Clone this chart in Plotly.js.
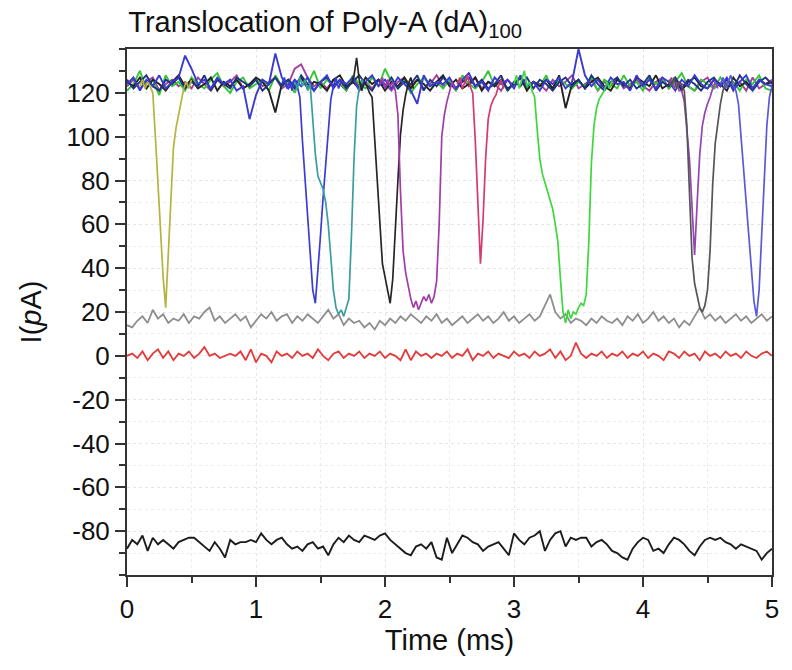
<!DOCTYPE html>
<html>
<head>
<meta charset="utf-8">
<script src="https://cdn.plot.ly/plotly-3.0.1.min.js"></script>
<style>
html,body{margin:0;padding:0;background:#ffffff;}
#chart{width:792px;height:670px;}
</style>
</head>
<body>
<div id="chart"></div>
<script>
// ---------- DATA (current in pA, time in ms) ----------
// sampling steps of the traces
const bandStep = 0.05;
const eventStep = 0.02;
const lowerStep = 0.04;

// open-pore baseline traces (0 - 5 ms, every 0.05 ms)
const bandBlue = [
  124,127,121,126,123,128,122,125,127,137,
  131,124,126,122,127,124,126,121,123,108,
  119,126,124,138,127,122,126,123,127,121,
  125,128,122,126,124,127,121,125,128,123,
  126,122,127,124,121,115,128,123,125,124,
  127,122,126,129,123,125,121,127,124,126,
  122,128,123,125,121,126,124,127,122,125,
  140,128,123,126,122,127,124,125,121,128,
  123,126,122,127,125,121,126,123,128,124,
  122,126,123,127,121,125,128,122,126,124,
  123];
const bandNavy = [
  126,122,125,128,123,121,126,124,127,122,
  125,123,128,121,126,124,122,127,125,123,
  126,121,124,127,123,126,122,128,124,121,
  125,127,123,126,122,125,128,124,121,126,
  123,127,122,125,124,128,121,126,123,127,
  124,122,125,127,123,126,122,124,128,121,
  125,123,127,122,126,124,121,125,127,123,
  126,122,128,124,121,125,127,123,126,122,
  124,128,121,125,123,127,122,126,124,121,
  125,127,123,126,122,128,124,121,125,127,
  124];
const bandGreen = [
  121,124,130,122,126,119,128,123,125,121,
  127,124,122,126,129,123,120,125,127,122,
  124,126,121,128,123,125,120,127,124,130,
  122,126,123,125,121,128,124,122,127,123,
  131,125,122,126,120,124,127,123,125,122,
  126,121,128,124,122,125,130,123,126,121,
  124,127,122,125,123,128,121,126,124,122,
  125,123,127,121,126,124,122,128,123,125,
  121,127,124,126,122,125,129,123,121,126,
  124,122,127,123,125,121,126,124,128,122,
  121];
const bandBlack = [
  125,123,127,122,126,124,121,125,128,123,
  126,122,124,127,121,125,123,126,122,124,
  127,125,121,111,124,126,123,127,122,125,
  124,121,126,128,123,125,122,127,124,126,
  121,125,123,127,122,126,124,121,125,128,
  123,126,122,124,127,121,125,123,126,122,
  124,127,121,125,123,126,122,128,113,124,
  126,122,125,127,123,121,126,124,122,127,
  125,123,128,122,124,126,121,125,127,123,
  122,126,124,121,127,123,125,122,126,124,
  125];
const bandMagenta = [
  123,126,122,125,127,121,124,126,123,125,
  122,127,124,121,126,123,125,128,122,124,
  126,123,125,127,122,124,131,133,127,123,
  125,122,126,124,121,127,123,125,122,126,
  124,121,125,127,123,126,122,124,128,123,
  125,121,126,123,127,122,125,124,121,126,
  123,127,122,125,124,121,126,123,125,128,
  122,124,126,121,125,123,127,122,124,126,
  123,121,125,127,122,126,124,123,121,125,
  127,122,124,126,123,125,121,127,122,124,
  126];

// translocation events (start time in ms, samples every 0.02 ms)
const oliveStart = 0.10;
const oliveEvent = [123,126,122,125,123,120,100,80,58,36,22,45,72,95,104,110,117,122,125,122,126];
const blueStart = 1.20;
const blueEvent = [124,127,122,125,121,126,123,118,98,80,62,45,30,24,38,55,72,88,104,117,123,127,122,125];
const tealStart = 1.30;
const tealEvent = [125,122,127,123,126,121,124,108,92,82,79,76,70,60,45,30,22,19,21,18,22,26,55,90,114,122,126,123];
const blackStart = 1.74;
const blackEvent = [124,128,136,126,121,125,123,120,118,98,78,60,42,36,30,24,35,55,80,101,112,119,124,127,122];
const magentaStart = 1.96;
const magentaEvent = [124,127,122,126,123,125,121,110,75,48,38,32,26,22,25,21,24,27,25,28,24,27,34,60,100,110,116,121,125,122];
const pinkStart = 2.56;
const pinkEvent = [124,127,122,125,128,123,120,98,72,42,62,90,108,114,117,119,123,126,122];
const greenStart = 3.00;
const greenEvent = [124,128,122,126,130,123,125,121,118,103,90,83,79,75,71,67,60,52,35,20,15,21,17,20,19,22,24,23,28,52,88,105,113,117,119,121,125,122,126];
const purpleStart = 4.20;
const purpleEvent = [124,127,122,125,121,121,116,103,90,68,46,70,92,105,111,115,118,122,125,122];
const greyEventStart = 4.20;
const greyEvent = [126,123,127,122,125,123,121,105,70,45,33,27,22,20,23,30,48,78,97,106,115,121,125,122];
const violetStart = 4.60;
const violetEvent = [124,127,122,125,128,123,121,115,100,85,70,55,40,25,18,30,55,80,105,118,123];

// lower reference traces (0 - 5 ms, every 0.04 ms)
const greyLine = [
  14,13,16,18,15,21,17,19,15,17,
  16,19,15,18,17,20,22,16,18,15,
  17,19,16,18,13,16,19,17,20,16,
  18,19,15,18,16,19,17,15,18,21,
  17,19,14,17,15,16,13,15,12,16,
  14,17,15,18,16,19,17,15,18,16,
  19,15,17,14,16,18,15,17,19,16,
  18,15,17,20,16,18,15,17,19,16,
  18,23,28,20,17,19,15,17,16,14,
  17,15,18,16,15,17,14,18,16,19,
  15,17,20,16,18,15,17,13,16,14,
  18,22,17,19,16,18,15,17,19,16,
  18,15,17,19,16,18];
const redLine = [
  0,1,-1,2,-2,1,3,-1,2,-2,
  1,0,2,-1,1,4,0,1,-1,0,
  1,0,2,-2,3,-3,1,0,-3,2,
  0,1,-1,2,0,1,-1,3,0,-2,
  1,2,-1,1,0,2,-1,1,0,2,
  -1,1,0,-2,3,-2,2,0,1,-1,
  1,0,2,-1,1,0,3,-2,1,0,
  2,-1,1,0,-1,2,0,1,-1,2,
  0,1,3,-1,2,-2,0,6,1,-1,
  1,0,2,-1,1,0,2,-1,1,0,
  2,-1,1,0,-2,2,1,-1,2,0,
  1,-2,2,0,1,-1,2,0,1,-1,
  2,0,-1,1,2,0];
const blackLine = [
  -88,-84,-86,-82,-89,-83,-86,-84,-86,-88,
  -85,-84,-83,-83,-85,-87,-89,-85,-88,-92,
  -84,-86,-85,-85,-84,-85,-81,-84,-86,-84,
  -83,-86,-88,-87,-89,-86,-85,-88,-87,-91,
  -86,-83,-85,-82,-84,-85,-82,-83,-84,-82,
  -81,-84,-86,-88,-90,-91,-87,-86,-88,-85,
  -92,-93,-83,-90,-86,-82,-83,-85,-86,-89,
  -87,-86,-85,-88,-91,-81,-84,-86,-83,-82,
  -80,-89,-84,-81,-80,-87,-83,-84,-83,-83,
  -87,-85,-84,-86,-89,-90,-92,-93,-88,-85,
  -83,-84,-89,-88,-90,-86,-83,-84,-86,-89,
  -91,-87,-84,-83,-84,-83,-85,-86,-88,-86,
  -87,-88,-89,-93,-90,-88];

// axis ticks
const xTicks = [0,1,2,3,4,5];
const yTicks = [-80,-60,-40,-20,0,20,40,60,80,100,120];
const yTickText = ["-80","-60","-40","-20","0","20","40","60","80","100","120"];

// ---------- BUILD ----------
function times(t0, dt, n){
  const out = [];
  for (let i = 0; i < n; i++) out.push(Math.round((t0 + i*dt)*10000)/10000);
  return out;
}
function line(t0, dt, vals, color, width){
  return {
    type:'scatter', mode:'lines',
    x: times(t0, dt, vals.length), y: vals,
    line:{color:color, width:width||1.5},
    showlegend:false, hoverinfo:'skip'
  };
}

const traces = [
  line(0, lowerStep, greyLine, '#8e8e8e', 1.8),
  line(0, lowerStep, redLine, '#e23b3b', 1.8),
  line(0, lowerStep, blackLine, '#1c1c1c', 1.9),
  line(0, bandStep, bandMagenta, '#a2409c', 1.9),
  line(0, bandStep, bandGreen, '#34c634', 1.9),
  line(0, bandStep, bandBlack, '#222222', 1.9),
  line(0, bandStep, bandNavy, '#1f3480', 1.9),
  line(0, bandStep, bandBlue, '#3a3ad0', 1.9),
  line(oliveStart, eventStep, oliveEvent, '#b4b43e', 1.7),
  line(blueStart, eventStep, blueEvent, '#3c3cd4', 1.7),
  line(tealStart, eventStep, tealEvent, '#3a9e9e', 1.7),
  line(blackStart, eventStep, blackEvent, '#262626', 1.7),
  line(magentaStart, eventStep, magentaEvent, '#a23ca8', 1.7),
  line(pinkStart, eventStep, pinkEvent, '#d43a72', 1.7),
  line(greenStart, eventStep, greenEvent, '#3ed83e', 1.7),
  line(purpleStart, eventStep, purpleEvent, '#9444b4', 1.7),
  line(greyEventStart, eventStep, greyEvent, '#555555', 1.7),
  line(violetStart, eventStep, violetEvent, '#5a5ad6', 1.7)
];

const fontFam = 'Liberation Sans, Arial, sans-serif';
const layout = {
  width:792, height:670,
  margin:{l:127, r:20, t:49, b:95},
  paper_bgcolor:'#ffffff', plot_bgcolor:'#ffffff',
  font:{family:fontFam, color:'#111111'},
  title:{
    text:'Translocation of Poly-A (dA)<sub>100</sub>',
    font:{family:fontFam, size:29, color:'#111111'},
    xref:'container', x:0.162, xanchor:'left',
    yref:'container', y:0.968, yanchor:'middle'
  },
  xaxis:{
    range:[0,5], tickmode:'array', tickvals:xTicks,
    ticks:'outside', ticklen:10, tickwidth:2, tickcolor:'#333333',
    showline:true, linewidth:2, linecolor:'#333333', mirror:true,
    showgrid:true, gridcolor:'#e6e6e6', griddash:'dot', gridwidth:1,
    zeroline:false,
    minor:{dtick:0.5, ticks:'outside', ticklen:6, tickwidth:2, tickcolor:'#333333',
           showgrid:true, gridcolor:'#ececec', griddash:'dot'},
    tickfont:{family:fontFam, size:26, color:'#111111'},
    title:{text:'Time (ms)', font:{family:fontFam, size:29, color:'#111111'}, standoff:0}
  },
  yaxis:{
    range:[-100,140], tickmode:'array', tickvals:yTicks, ticktext:yTickText,
    ticks:'outside', ticklen:10, tickwidth:2, tickcolor:'#333333',
    showline:true, linewidth:2, linecolor:'#333333', mirror:true,
    showgrid:true, gridcolor:'#e6e6e6', griddash:'dot', gridwidth:1,
    zeroline:false,
    minor:{dtick:10, ticks:'outside', ticklen:6, tickwidth:2, tickcolor:'#333333',
           showgrid:true, gridcolor:'#ececec', griddash:'dot'},
    tickfont:{family:fontFam, size:26, color:'#111111'},
    title:{text:'I(<i>p</i>A)', font:{family:fontFam, size:29, color:'#111111'}, standoff:16}
  }
};

Plotly.newPlot('chart', traces, layout, {displayModeBar:false, staticPlot:true});
</script>
</body>
</html>
